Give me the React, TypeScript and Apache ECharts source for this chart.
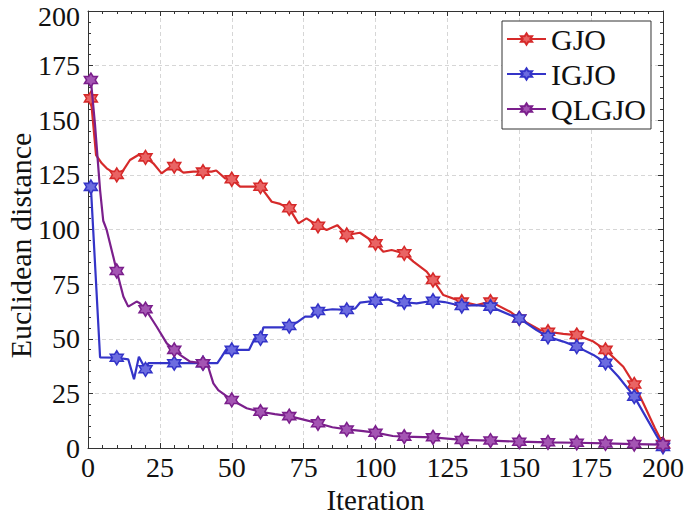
import React, { useEffect, useRef } from "react";
import * as echarts from "echarts";

// Iteration vs Euclidean distance
const gjo: number[][] = [
  [1, 160], [2.8, 134], [4.8, 130.3], [6.5, 128], [10, 125], [12.3, 127.2], [14.6, 131.8],
  [17.5, 134.1], [20, 133], [22.7, 130.3], [25.6, 125.7], [27.9, 128], [30, 129],
  [33.2, 126], [36.6, 126.5], [40, 126.5], [43, 126.5], [44.6, 127], [47.7, 123.4],
  [50, 123], [52.9, 119.6], [57.5, 119.6], [60, 119.6], [63.9, 112.7], [66.8, 111.7],
  [70, 109.7], [73.2, 102.8], [76, 105.1], [80, 101.7], [83, 99.8], [86.7, 102],
  [90, 97.5], [94.6, 98.5], [100, 93.7], [102.7, 89.8], [105.6, 90.6], [110, 89.1],
  [113.2, 85.3], [117.8, 80.7], [120, 76.9], [123.6, 70], [130, 67], [135.2, 65.4],
  [140, 67], [146.8, 62.4], [150, 59.3], [157.2, 54], [160, 53.2], [165.3, 52.2],
  [170, 51.7], [175.8, 48.7], [180, 44.9], [186.2, 37.2], [190, 29.1], [193.2, 20.4],
  [197.2, 9], [200, 1.8],
];

const igjo: number[][] = [
  [1, 119.5], [4.2, 41.5], [10, 41.3], [14, 40.6], [16, 31.5], [17.7, 41.8], [20, 36],
  [21, 38.8], [30, 38.8], [40, 38.8], [45, 38.8], [46.5, 41.8], [48, 44.9], [50, 44.9],
  [56, 44.9], [58, 50.2], [60, 50.2], [61, 55.2], [68, 55.2], [70, 55.8], [72.6, 57.4],
  [75.5, 60.1], [77.8, 60.1], [80, 62.7], [85, 63.5], [90, 63.2], [93, 63.9],
  [94.6, 66.5], [100, 67.4], [104.5, 68], [107.4, 66.2], [110, 66.7], [114.3, 66.2],
  [120, 67.4], [124, 66.8], [130, 65], [135, 65.4], [140, 64.7], [146.8, 60.9],
  [150, 59.3], [156, 54], [160, 50.9], [165.3, 48.7], [170, 46.4], [175.8, 42.6],
  [180, 39], [184.5, 32.6], [190, 23.5], [200, 0.5],
];

const qlgjo: number[][] = [
  [1, 168.4], [2.4, 148.6], [4.2, 118], [5.3, 104], [6.5, 99.8], [8.8, 87.5], [10, 81],
  [12.3, 69.3], [14, 64.7], [16.9, 67], [17.9, 66.4], [20, 63.5], [23.9, 55.5],
  [27.4, 47.9], [30, 44.9], [32, 42.6], [35.5, 39.5], [40, 38.8], [41.8, 37.2],
  [43.6, 29.6], [45.3, 26.5], [50, 22], [55.2, 18.2], [60, 16.6], [65, 15.5], [70, 14.6],
  [75, 13], [80, 11.3], [85, 9.5], [90, 8.5], [95, 7.8], [100, 7], [106, 5.5],
  [110, 5.2], [120, 4.9], [130, 3.7], [140, 3.4], [150, 2.9], [160, 2.6], [170, 2.4],
  [180, 2.1], [190, 1.8], [200, 1.5],
];

const markerIterations = [1, 10, 20, 30, 40, 50, 60, 70, 80, 90, 100, 110, 120, 130, 140, 150, 160, 170, 180, 190, 200];
const seriesNames = ["GJO", "IGJO", "QLGJO"];

const FONT = "Liberation Serif";
const HEX = "path://M0,-1L0.289,-0.5L0.866,-0.5L0.577,0L0.866,0.5L0.289,0.5L0,1L-0.289,0.5L-0.866,0.5L-0.577,0L-0.866,-0.5L-0.289,-0.5Z";

const styles = [
  { line: "#d62a2a", fill: "#e96464" },
  { line: "#3434c8", fill: "#6c6ce0" },
  { line: "#7b1f8c", fill: "#a455b3" },
];

function toData(pts: number[][]) {
  return pts.map((p) =>
    markerIterations.includes(p[0]) ? { value: p } : { value: p, symbol: "none" }
  );
}

export default function App() {
  const ref = useRef<HTMLDivElement>(null);
  useEffect(() => {
    if (!ref.current) return;
    const chart = echarts.init(ref.current, undefined, { renderer: "svg" });
    const axisColor = "#333";
    const baseAxis = {
      min: 0,
      max: 200,
      interval: 25,
      axisLine: { show: true, onZero: false, lineStyle: { color: axisColor, width: 1 } },
      axisTick: { show: true, inside: true, length: 5, lineStyle: { color: axisColor } },
      minorTick: { show: true, splitNumber: 5, length: 3, lineStyle: { color: axisColor } },
    };
    const all = [gjo, igjo, qlgjo];
    chart.setOption({
      animation: false,
      backgroundColor: "#fff",
      grid: { left: 88, right: 22, top: 11, bottom: 69, containLabel: false, outerBoundsMode: "none" },
      xAxis: [
        {
          ...baseAxis,
          type: "value",
          position: "bottom",
          name: "Iteration",
          nameLocation: "middle",
          nameGap: 37,
          nameMoveOverlap: false,
          nameTextStyle: { fontFamily: FONT, fontSize: 29, color: "#111", lineHeight: 29 },
          axisLabel: { fontFamily: FONT, fontSize: 28, color: "#111", margin: 8, lineHeight: 22 },
          splitLine: { show: true, lineStyle: { color: "#d6d6d6", type: [4, 3], width: 1 } },
        },
        {
          ...baseAxis,
          type: "value",
          position: "top",
          axisLabel: { show: false },
          splitLine: { show: false },
        },
      ],
      yAxis: [
        {
          ...baseAxis,
          type: "value",
          position: "left",
          name: "Euclidean distance",
          nameLocation: "middle",
          nameGap: 53,
          nameMoveOverlap: false,
          nameTextStyle: { fontFamily: FONT, fontSize: 30, color: "#111", lineHeight: 30, padding: [0, 32, 0, 0] },
          axisLabel: {
            fontFamily: FONT,
            fontSize: 28,
            color: "#111",
            margin: 8,
            lineHeight: 22,
            formatter: (v: number) => (v === 200 ? "{t|" + v + "}" : String(v)),
            rich: { t: { fontFamily: FONT, fontSize: 28, color: "#111", lineHeight: 22, padding: [10, 0, 0, 0] } },
          },
          splitLine: { show: true, lineStyle: { color: "#d6d6d6", type: [4, 3], width: 1 } },
        },
        {
          ...baseAxis,
          type: "value",
          position: "right",
          axisLabel: { show: false },
          splitLine: { show: false },
        },
      ],
      legend: {
        orient: "vertical",
        left: 502,
        top: 21,
        itemWidth: 39,
        itemHeight: 14,
        itemGap: 5,
        padding: [3, 5, 5, 4],
        borderColor: "#333",
        borderWidth: 1,
        backgroundColor: "#fff",
        textStyle: { fontFamily: FONT, fontSize: 30, color: "#111" },
        data: seriesNames,
      },
      series: all.map((pts, i) => ({
        name: seriesNames[i],
        type: "line",
        xAxisIndex: 0,
        yAxisIndex: 0,
        data: toData(pts),
        symbol: HEX,
        symbolSize: [13, 14],
        showSymbol: true,
        showAllSymbol: true,
        lineStyle: { color: styles[i].line, width: 2.2 },
        itemStyle: { color: styles[i].fill, borderColor: styles[i].line, borderWidth: 1.5 },
        emphasis: { disabled: true },
        z: 2 + i,
      })),
    });
    return () => chart.dispose();
  }, []);
  return (
    <div
      ref={ref}
      style={{ position: "fixed", left: 0, top: 0, width: 685, height: 517 }}
    />
  );
}
